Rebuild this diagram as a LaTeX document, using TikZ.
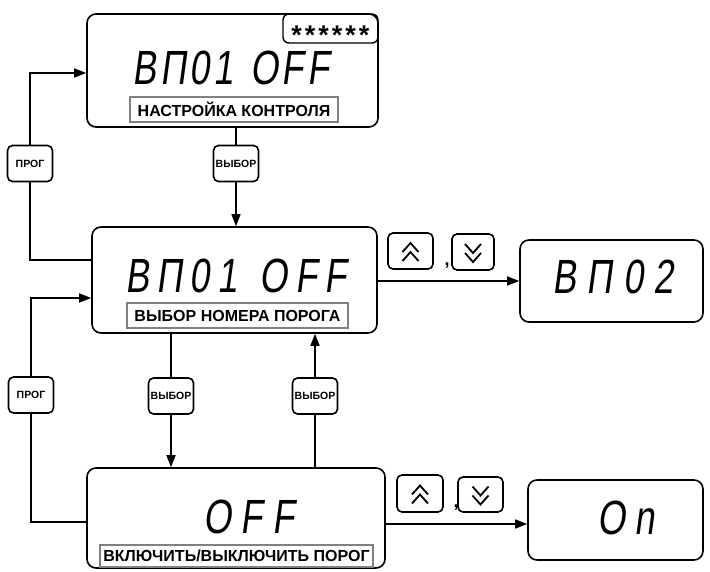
\documentclass[tikz,border=0pt]{standalone}
\usepackage{fontspec}
\setmainfont{Liberation Sans}
\newfontfamily\segfont[FakeSlant=0.18]{Liberation Sans}
\usetikzlibrary{arrows.meta}
\newcommand\seg[1]{\scalebox{0.75}[1]{\segfont\fontsize{48}{48}\selectfont #1}}
\begin{document}
\begin{tikzpicture}[x=1pt,y=-1pt,
  screen/.style={draw, line width=1.6pt, rounded corners=9pt, inner sep=0pt},
  lbl/.style={draw=black!50, line width=1.3pt, inner sep=0pt, font=\bfseries\fontsize{16}{16}\selectfont},
  btn/.style={draw, line width=1.6pt, rounded corners=5pt, inner sep=0pt, minimum width=45pt, minimum height=36pt},
  bfont/.style={font=\bfseries\fontsize{10.5}{11}\selectfont},
  line/.style={line width=1.6pt},
  arr/.style={line width=1.6pt, -{Triangle[length=12pt,width=9pt]}},
  chev/.style={line width=1.8pt, line join=miter},
  disp/.style={inner sep=0pt}
]
\useasboundingbox (0,0) rectangle (710,572);

% screens
\node[screen, minimum width=291pt, minimum height=113pt] (b1) at (232.5,70.5) {};
\node[screen, minimum width=285pt, minimum height=106pt] (b2) at (234.5,280) {};
\node[screen, minimum width=183pt, minimum height=82pt] (b3) at (611.5,281) {};
\node[screen, minimum width=298pt, minimum height=100pt] (b4) at (236,518) {};
\node[screen, minimum width=175pt, minimum height=80pt] (b5) at (615.5,520) {};

% stars box
\node[screen, line width=1.4pt, rounded corners=6pt, minimum width=95pt, minimum height=29pt] (st) at (330.5,28.5) {};
\node[inner sep=0pt, font=\bfseries\fontsize{27}{27}\selectfont] (stars) at (330.5,35)
  {*\kern3pt*\kern3pt*\kern3pt*\kern3pt*\kern3pt*};

% display texts
\node[disp] (d1) at (231,68) {\seg{В\kern5pt П\kern5pt 0\kern5pt 1\kern22pt O\kern5pt F\kern5pt F}};
\node[disp] (d2) at (236,276) {\seg{В\kern10pt П\kern10pt 0\kern10pt 1\kern30pt O\kern10pt F\kern10pt F}};
\node[disp] (d3) at (613,277) {\seg{В\kern14pt П\kern14pt 0\kern14pt 2}};
\node[disp] (d4) at (249,517) {\seg{O\kern13pt F\kern13pt F}};
\node[disp] (d5) at (626,518) {\seg{O\kern12pt n}};

% labels
\node[lbl, minimum width=208pt, minimum height=25pt] (l1) at (234,109.5) {НАСТРОЙКА КОНТРОЛЯ};
\node[lbl, minimum width=221pt, minimum height=25pt] (l2) at (237.5,315.5) {ВЫБОР НОМЕРА ПОРОГА};
\node[lbl, minimum width=273pt, minimum height=22pt] (l3) at (236.5,556) {ВКЛЮЧИТЬ/ВЫКЛЮЧИТЬ ПОРОГ};

% buttons
\node[btn, bfont] (p1) at (30,163.5) {ПРОГ};
\node[btn, bfont] (v1) at (236,163.5) {ВЫБОР};
\node[btn, bfont] (v2) at (171,396) {ВЫБОР};
\node[btn, bfont] (v3) at (315,396) {ВЫБОР};
\node[btn, bfont] (p2) at (31,395) {ПРОГ};

% up/down keys
\node[btn] (u1) at (410.5,251) {};
\node[btn, minimum width=42pt] (n1) at (473,252) {};
\node[font=\bfseries\fontsize{18}{18}\selectfont, inner sep=0pt] (c1) at (447,266) {,};
\node[btn, minimum width=46pt, minimum height=37pt] (u2) at (420,493.5) {};
\node[btn, minimum height=35pt] (n2) at (480.5,494.5) {};
\node[font=\bfseries\fontsize{18}{18}\selectfont, inner sep=0pt] (c2) at (456,508) {,};

\foreach \k in {u1,u2}{
  \draw[chev] ([shift={(-8,1)}]\k.center) -- ++(8,-9) -- ++(8,9);
  \draw[chev] ([shift={(-8,10)}]\k.center) -- ++(8,-9) -- ++(8,9);
}
\foreach \k in {n1,n2}{
  \draw[chev] ([shift={(-8,-8)}]\k.center) -- ++(8,9) -- ++(8,-9);
  \draw[chev] ([shift={(-8,1)}]\k.center) -- ++(8,9) -- ++(8,-9);
}

% connectors
\coordinate (e5) at ([yshift=-4pt]b5.west);
\draw[line] ([yshift=20pt]b2.west) -| (p1.south);
\draw[arr] (p1.north) |- ([yshift=-2.5pt]b1.west);
\draw[line] (b1.south -| v1.north) -- (v1.north);
\draw[arr] (v1.south) -- (v1.south |- b2.north);
\draw[arr] (b2.east |- b3.west) -- (b3.west);
\draw[line] (b2.south -| v2.north) -- (v2.north);
\draw[arr] (v2.south) -- (v2.south |- b4.north);
\draw[line] (b4.north -| v3.south) -- (v3.south);
\draw[arr] (v3.north) -- (v3.north |- b2.south);
\draw[line] ([yshift=-4pt]b4.west) -| (p2.south);
\draw[arr] (p2.north) |- ([yshift=-18pt]b2.west);
\draw[arr] (b4.east |- e5) -- (e5);
\end{tikzpicture}
\end{document}
